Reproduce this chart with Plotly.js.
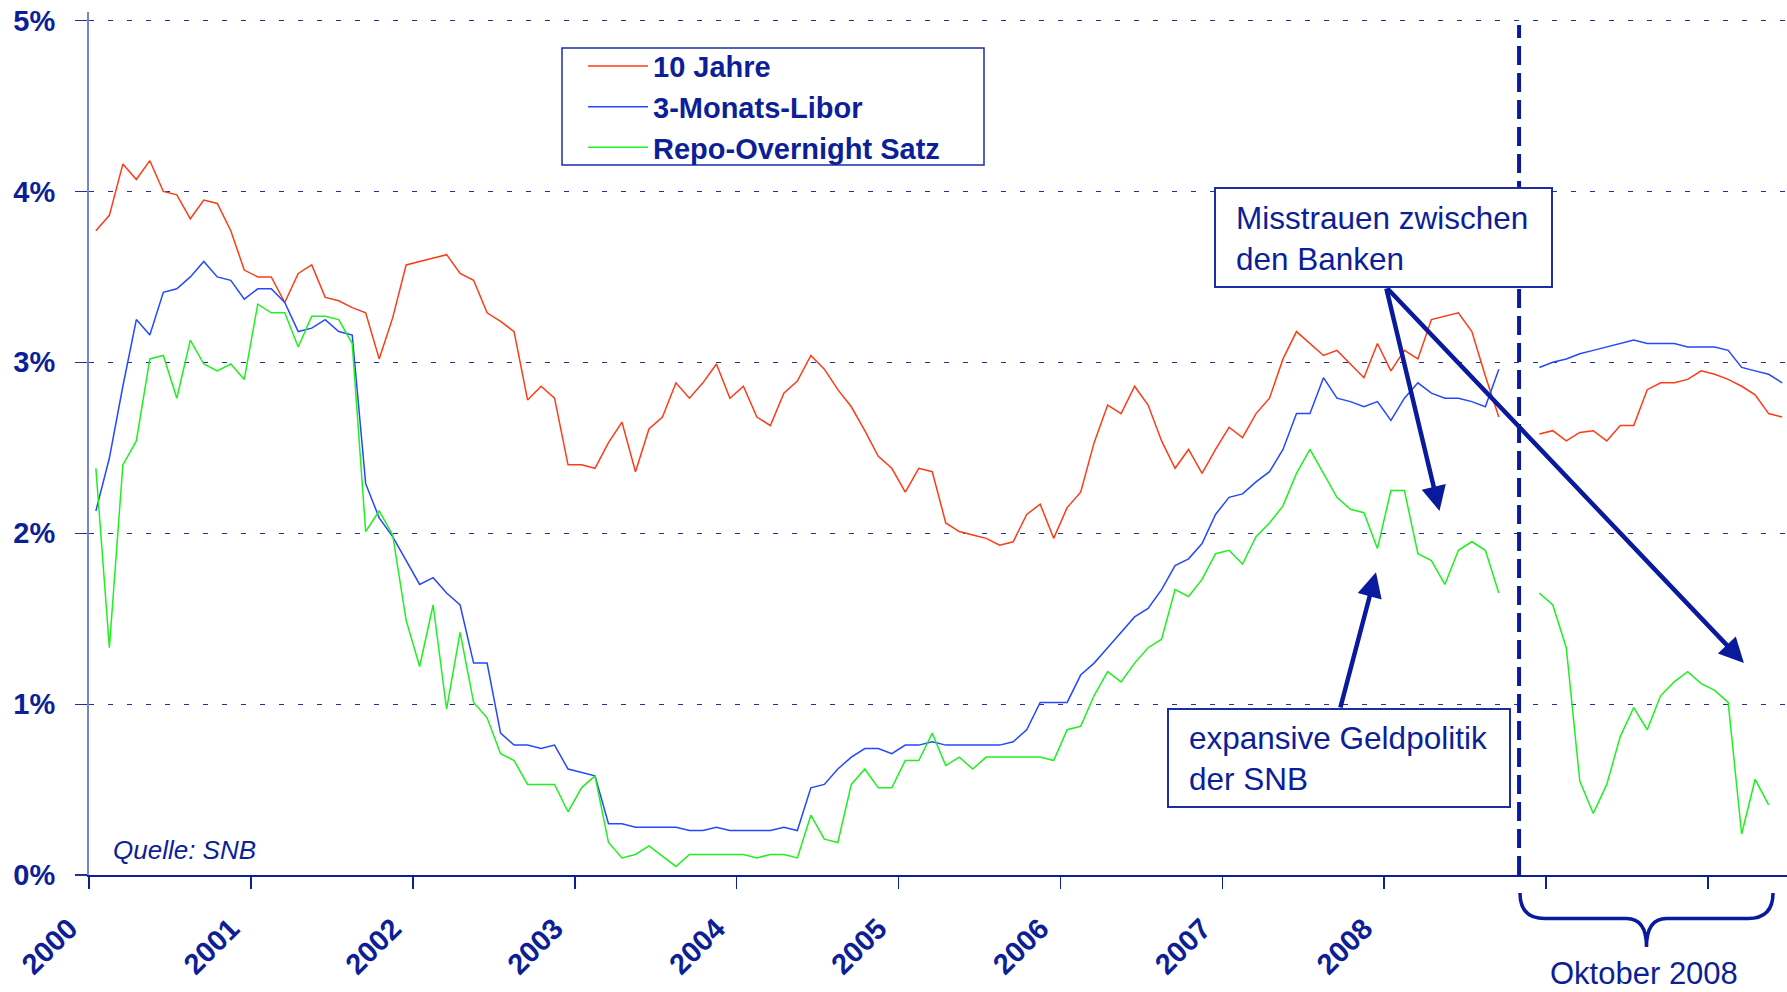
<!DOCTYPE html>
<html>
<head>
<meta charset="utf-8">
<script src="https://cdn.plot.ly/plotly-3.0.1.min.js"></script>
<style>
html,body{margin:0;padding:0;background:#ffffff;}
#chart{width:1787px;height:992px;}
</style>
</head>
<body>
<div id="chart"></div>
<script>
// ---------------- DATA ----------------
const jahre = ["2000","2001","2002","2003","2004","2005","2006","2007","2008"];
const monate = ["Jan","Feb","Mär","Apr","Mai","Jun","Jul","Aug","Sep","Okt","Nov","Dez"];
const serienNamen = ["10 Jahre","3-Monats-Libor","Repo-Overnight Satz"];

// monthly values, Jan 2000 – Sep 2008 (in %)
const zehnJahre = [
 3.77,3.86,4.16,4.07,4.18,4.00,3.98,3.84,3.95,3.93,3.77,3.54,
 3.50,3.50,3.35,3.52,3.57,3.38,3.36,3.32,3.29,3.02,3.26,3.57,
 3.59,3.61,3.63,3.52,3.48,3.29,3.24,3.18,2.78,2.86,2.79,2.40,
 2.40,2.38,2.53,2.65,2.36,2.61,2.68,2.88,2.79,2.88,2.99,2.79,
 2.86,2.68,2.63,2.82,2.89,3.04,2.96,2.84,2.74,2.60,2.45,2.38,
 2.24,2.38,2.36,2.06,2.01,1.99,1.97,1.93,1.95,2.11,2.17,1.97,
 2.15,2.24,2.53,2.75,2.70,2.86,2.75,2.54,2.38,2.49,2.35,2.49,
 2.62,2.56,2.70,2.79,3.02,3.18,3.11,3.04,3.07,2.99,2.91,3.11,
 2.95,3.07,3.02,3.25,3.27,3.29,3.18,2.92,2.68];
const libor3m = [
 2.13,2.44,2.86,3.25,3.16,3.41,3.43,3.50,3.59,3.50,3.48,3.37,
 3.43,3.43,3.35,3.18,3.20,3.25,3.18,3.16,2.29,2.09,1.98,1.84,
 1.70,1.74,1.65,1.58,1.24,1.24,0.83,0.76,0.76,0.74,0.76,0.62,
 0.60,0.58,0.30,0.30,0.28,0.28,0.28,0.28,0.26,0.26,0.28,0.26,
 0.26,0.26,0.26,0.28,0.26,0.51,0.53,0.62,0.69,0.74,0.74,0.71,
 0.76,0.76,0.78,0.76,0.76,0.76,0.76,0.76,0.78,0.85,1.01,1.01,
 1.01,1.17,1.24,1.33,1.42,1.51,1.56,1.67,1.81,1.85,1.94,2.11,
 2.21,2.23,2.30,2.36,2.49,2.70,2.70,2.91,2.79,2.77,2.74,2.77,
 2.66,2.79,2.88,2.82,2.79,2.79,2.77,2.74,2.96];
const repoON = [
 2.38,1.33,2.40,2.54,3.02,3.04,2.79,3.13,2.99,2.95,2.99,2.90,
 3.34,3.29,3.29,3.09,3.27,3.27,3.25,3.11,2.01,2.13,1.99,1.49,
 1.22,1.58,0.97,1.42,1.01,0.92,0.71,0.67,0.53,0.53,0.53,0.37,
 0.51,0.58,0.19,0.10,0.12,0.17,0.11,0.05,0.12,0.12,0.12,0.12,
 0.12,0.10,0.12,0.12,0.10,0.35,0.21,0.19,0.53,0.62,0.51,0.51,
 0.67,0.67,0.83,0.64,0.69,0.62,0.69,0.69,0.69,0.69,0.69,0.67,
 0.85,0.87,1.05,1.19,1.13,1.24,1.33,1.38,1.67,1.63,1.73,1.88,
 1.90,1.82,1.98,2.06,2.16,2.35,2.49,2.35,2.21,2.14,2.12,1.91,
 2.25,2.25,1.88,1.84,1.70,1.90,1.95,1.90,1.65];

// daily values, October 2008
const oktoberTage = ["01.10.2008","02.10.2008","03.10.2008","06.10.2008","07.10.2008","08.10.2008",
 "09.10.2008","10.10.2008","13.10.2008","14.10.2008","15.10.2008","16.10.2008","17.10.2008",
 "20.10.2008","21.10.2008","22.10.2008","23.10.2008","24.10.2008","27.10.2008"];
const zehnJahreOkt = [2.58,2.60,2.54,2.59,2.60,2.54,2.63,2.63,2.84,2.88,2.88,2.90,2.95,2.93,2.90,2.86,2.81,2.70,2.68];
const liborOkt     = [2.97,3.00,3.02,3.05,3.07,3.09,3.11,3.13,3.11,3.11,3.11,3.09,3.09,3.09,3.07,2.97,2.95,2.93,2.88];
const repoOkt      = [1.65,1.58,1.33,0.55,0.36,0.53,0.81,0.98,0.85,1.05,1.13,1.19,1.12,1.08,1.01,0.24,0.56,0.41];

const yTicks = [0,1,2,3,4,5];
const yTickText = ["0%","1%","2%","3%","4%","5%"];
const quelle = "Quelle: SNB";
const oktoberText = "Oktober 2008";
const notizMisstrauen = "Misstrauen zwischen<br>den Banken";
const notizGeldpolitik = "expansive Geldpolitik<br>der SNB";

// ---------------- LAYOUT CONSTANTS ----------------
const NAVY = "#0c1f96";
const ARROW = "#0a1a9c";
const FONT = "Liberation Sans, Arial, sans-serif";
const W = 1787, H = 992;
const M = {l: 89, r: 0, t: 12, b: 117};
const PW = W - M.l - M.r, PH = H - M.t - M.b;
const GAP = 2;                       // empty categories before October block
const nMon = zehnJahre.length;
const oktStart = nMon + GAP;
const nCat = oktStart + oktoberTage.length;
const xr = [-0.51, -0.51 + PW / 13.49];
const yr = [0, 5.05];

// helpers (pixel -> paper / data) for decorations only
const pX = px => (px - M.l) / PW;
const pY = py => (M.t + PH - py) / PH;
const dX = px => xr[0] + (px - M.l) * (xr[1] - xr[0]) / PW;
const dY = py => yr[0] + (M.t + PH - py) * (yr[1] - yr[0]) / PH;

// ---------------- TRACES ----------------
const monLabels = [];
for (let i = 0; i < nMon; i++) monLabels.push(monate[i % 12] + " " + jahre[Math.floor(i / 12)]);

function serie(name, mon, okt, color) {
  const x = [], y = [], t = [];
  mon.forEach((v, i) => { x.push(i); y.push(v); t.push(monLabels[i]); });
  x.push(nMon); y.push(null); t.push("");
  okt.forEach((v, j) => { x.push(oktStart + j); y.push(v); t.push(oktoberTage[j]); });
  return {
    type: "scatter", mode: "lines", name: name, x: x, y: y, text: t,
    connectgaps: false,
    line: {color: color, width: 1.5},
    hovertemplate: "%{text}: %{y:.2f}%<extra>" + name + "</extra>"
  };
}
const traces = [
  serie(serienNamen[0], zehnJahre, zehnJahreOkt, "#ff3b16"),
  serie(serienNamen[1], libor3m, liborOkt, "#2348ff"),
  serie(serienNamen[2], repoON, repoOkt, "#1ff01f")
];

// ticks every 12 categories, on category boundaries
const tickvals = [], ticktext = [];
for (let k = 0; k * 12 < nCat; k++) {
  tickvals.push(k * 12 - 0.5);
  ticktext.push(k < jahre.length ? jahre[k] : "");
}

const sepX = (nMon - 1 + oktStart) / 2;

// curly brace under October block
const b = {x0: 1520, x1: 1773, xm: 1646.5, yt: 893, yb: 918.5, yp: 947};
const P = (x, y) => pX(x).toFixed(5) + "," + pY(y).toFixed(5);
const bracePath =
  "M" + P(b.x0, b.yt) + " Q" + P(b.x0, b.yb) + " " + P(b.x0 + 25, b.yb) +
  " L" + P(b.xm - 20, b.yb) + " Q" + P(b.xm, b.yb) + " " + P(b.xm, b.yp) +
  " Q" + P(b.xm, b.yb) + " " + P(b.xm + 20, b.yb) +
  " L" + P(b.x1 - 25, b.yb) + " Q" + P(b.x1, b.yb) + " " + P(b.x1, b.yt);

const shapes = [
  {type: "line", xref: "x", yref: "y", x0: sepX, x1: sepX, y0: 0, y1: dY(25),
   line: {color: ARROW, width: 4, dash: "19px,8px"}, layer: "above"},
  {type: "rect", xref: "paper", yref: "paper", x0: pX(562), x1: pX(984), y0: pY(165), y1: pY(48),
   line: {color: "#1a2ea6", width: 1.5}, fillcolor: "#ffffff", layer: "above"},
  {type: "rect", xref: "paper", yref: "paper", x0: pX(1215), x1: pX(1552), y0: pY(287), y1: pY(188),
   line: {color: "#1a2ea6", width: 2}, fillcolor: "#ffffff", layer: "above"},
  {type: "rect", xref: "paper", yref: "paper", x0: pX(1168), x1: pX(1510), y0: pY(807), y1: pY(709),
   line: {color: "#1a2ea6", width: 2}, fillcolor: "#ffffff", layer: "above"},
  {type: "path", xref: "paper", yref: "paper", path: bracePath,
   line: {color: ARROW, width: 3.5}, fillcolor: "rgba(0,0,0,0)"}
];

function pfeil(tail, tip) {
  return {xref: "x", yref: "y", axref: "x", ayref: "y",
    x: dX(tip[0]), y: dY(tip[1]), ax: dX(tail[0]), ay: dY(tail[1]),
    text: "", showarrow: true, arrowhead: 2, arrowsize: 1.1, arrowwidth: 4.5,
    arrowcolor: ARROW, standoff: 0, startstandoff: 0};
}

const annotations = [
  {xref: "paper", yref: "paper", x: pX(1236), y: pY(200), xanchor: "left", yanchor: "top",
   align: "left", text: notizMisstrauen, showarrow: false, borderpad: 0, borderwidth: 0,
   font: {family: FONT, size: 31.5, color: NAVY}},
  {xref: "paper", yref: "paper", x: pX(1188.6), y: pY(720), xanchor: "left", yanchor: "top",
   align: "left", text: notizGeldpolitik, showarrow: false, borderpad: 0, borderwidth: 0,
   font: {family: FONT, size: 31.5, color: NAVY}},
  {xref: "paper", yref: "paper", x: pX(112.9), y: pY(834.5), xanchor: "left", yanchor: "top",
   text: quelle, showarrow: false, borderpad: 0, borderwidth: 0,
   font: {family: FONT, size: 26, color: NAVY, style: "italic"}},
  {xref: "paper", yref: "paper", x: pX(1644.3), y: pY(956), xanchor: "center", yanchor: "top",
   text: oktoberText, showarrow: false, borderpad: 0, borderwidth: 0,
   font: {family: FONT, size: 31, color: NAVY}},
  pfeil([1386, 287], [1439.5, 511]),
  pfeil([1386, 287], [1743.9, 663]),
  pfeil([1340, 709], [1376, 572.3])
];

const layout = {
  width: W, height: H,
  margin: M,
  paper_bgcolor: "#ffffff", plot_bgcolor: "#ffffff",
  font: {family: FONT, color: NAVY},
  showlegend: true,
  legend: {
    x: pX(583), y: pY(40.6), xanchor: "left", yanchor: "top",
    bgcolor: "rgba(0,0,0,0)", borderwidth: 0, itemwidth: 60,
    font: {family: FONT, size: 29, color: NAVY, weight: 700},
    traceorder: "normal"
  },
  xaxis: {
    type: "linear", range: xr, showgrid: false, zeroline: false,
    showline: true, linecolor: NAVY, linewidth: 2,
    tickmode: "array", tickvals: tickvals, ticktext: ticktext,
    ticks: "outside", ticklen: 12, tickwidth: 1.5, tickcolor: NAVY,
    tickangle: -45, ticklabelshift: -20, ticklabelstandoff: 11,
    tickfont: {family: FONT, size: 29, color: NAVY, weight: 700}
  },
  yaxis: {
    range: yr, zeroline: false,
    showline: true, linecolor: "#7a84cc", linewidth: 2,
    showgrid: true, gridcolor: "#22309c", gridwidth: 1.2, griddash: "5px,14px",
    tickmode: "array", tickvals: yTicks, ticktext: yTickText,
    ticks: "outside", ticklen: 12, tickwidth: 1.2, tickcolor: "#22309c",
    ticklabelstandoff: 14,
    tickfont: {family: FONT, size: 29, color: NAVY, weight: 700}
  },
  shapes: shapes,
  annotations: annotations
};

Plotly.newPlot("chart", traces, layout, {displayModeBar: false, staticPlot: true});
</script>
</body>
</html>
